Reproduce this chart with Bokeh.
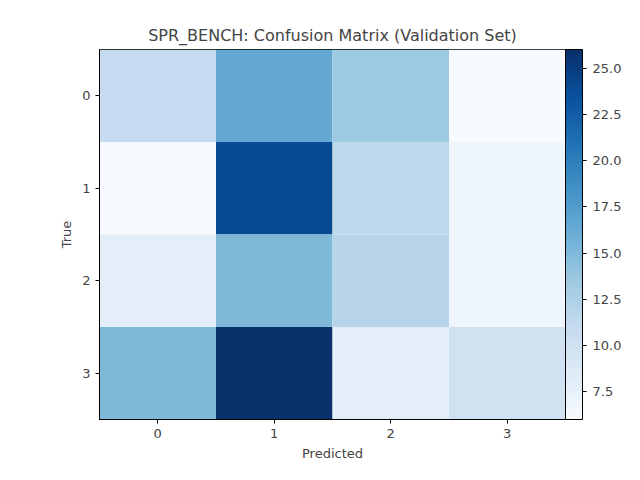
from bokeh.plotting import figure
from bokeh.models import ColumnDataSource, LinearColorMapper, ColorBar, FixedTicker, NumeralTickFormatter
from bokeh.palettes import Blues256
from bokeh.embed import file_html
from bokeh.resources import INLINE

# confusion matrix values (rows = true, cols = predicted)
labels = [0, 1, 2, 3]
row0 = [11, 16.5, 13.5, 6]
row1 = [6, 24, 11.5, 7]
row2 = [8, 15, 12, 7]
row3 = [15, 26, 8, 10]
matrix = [row0, row1, row2, row3]
cbar_ticks = [7.5, 10.0, 12.5, 15.0, 17.5, 20.0, 22.5, 25.0]

xs, ys, vals = [], [], []
for i, row in enumerate(matrix):
    for j, v in enumerate(row):
        xs.append(j)
        ys.append(i)
        vals.append(v)
src = ColumnDataSource(dict(x=xs, y=ys, v=vals))

mapper = LinearColorMapper(palette=list(reversed(Blues256)), low=6, high=26)

p = figure(width=624, height=464, output_backend="svg", toolbar_location=None,
           x_range=(-0.5, 3.5), y_range=(3.5, -0.5),
           title="SPR_BENCH: Confusion Matrix (Validation Set)",
           x_axis_label="Predicted", y_axis_label="True",
           min_border_left=99, min_border_top=49, min_border_bottom=45,
           min_border_right=10)
p.rect("x", "y", 1, 1, source=src, fill_color={"field": "v", "transform": mapper},
       line_color=None)

p.title.align = "center"
p.title.text_font = "DejaVu Sans"
p.title.text_font_style = "normal"
p.title.text_font_size = "16px"
for ax in (p.xaxis, p.yaxis):
    ax.ticker = FixedTicker(ticks=labels)
    ax.axis_label_text_font = "DejaVu Sans"
    ax.axis_label_text_font_style = "normal"
    ax.axis_label_text_font_size = "13px"
    ax.major_label_text_font = "DejaVu Sans"
    ax.major_label_text_font_size = "13px"
    ax.minor_tick_line_color = None
    ax.major_tick_in = 0
    ax.major_tick_out = 4
p.grid.visible = False
p.outline_line_color = "black"

cb = ColorBar(color_mapper=mapper, width=17, height=370, margin=27, padding=0,
              ticker=FixedTicker(ticks=cbar_ticks),
              formatter=NumeralTickFormatter(format="0.0"),
              major_label_text_font="DejaVu Sans", major_label_text_font_size="13px",
              major_tick_line_color="black", major_tick_in=0, major_tick_out=4,
              bar_line_color="black", label_standoff=6)
p.add_layout(cb, "right")

open("out.html", "w").write(file_html(p, INLINE))
